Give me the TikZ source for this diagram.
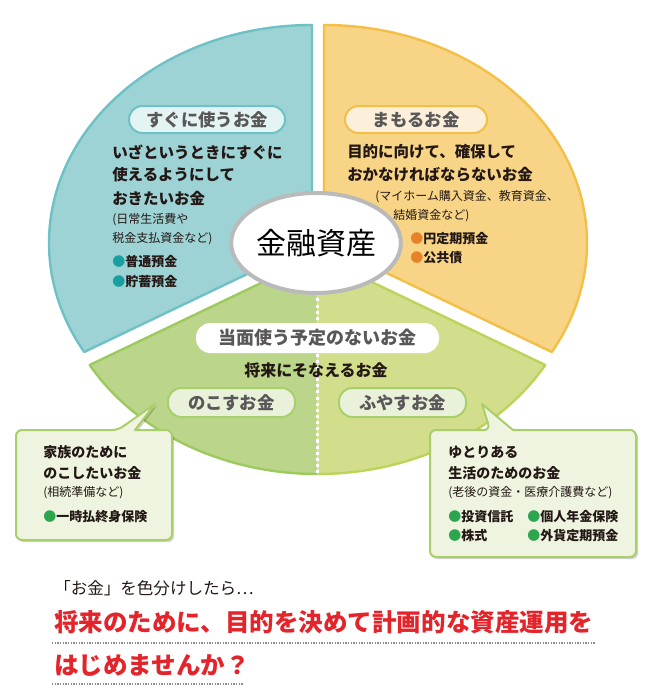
\documentclass[tikz,border=0pt]{standalone}
\usepackage{fontspec}
\newfontfamily\jp{Noto Sans CJK JP}
\usetikzlibrary{shadows,shapes.geometric}
\definecolor{bluefill}{HTML}{9ED3D5}
\definecolor{blueline}{HTML}{6EC1C5}
\definecolor{bluepill}{HTML}{E4F3F3}
\definecolor{orfill}{HTML}{F8D586}
\definecolor{orline}{HTML}{F3BF47}
\definecolor{orpill}{HTML}{FCF0DA}
\definecolor{gLfill}{HTML}{BBD68B}
\definecolor{gRfill}{HTML}{D3DE8D}
\definecolor{gLline}{HTML}{9DCA5C}
\definecolor{gRline}{HTML}{BDD35A}
\definecolor{gpill}{HTML}{E9F1DA}
\definecolor{boxfill}{HTML}{EEF4DF}
\definecolor{boxline}{HTML}{A9CF6A}
\definecolor{pilltext}{HTML}{595757}
\definecolor{ink}{HTML}{231815}
\definecolor{dotteal}{HTML}{1A9FA0}
\definecolor{dotorange}{HTML}{E8822A}
\definecolor{dotgreen}{HTML}{2DA44E}
\definecolor{redtext}{HTML}{E3242B}
\tikzset{
  sector/.style={line width=1.8pt, line join=round},
  pill/.style={rounded corners=10pt, line width=1.5pt, inner sep=0pt, text=pilltext,
    font=\jp\bfseries\fontsize{13pt}{13pt}\selectfont},
  body/.style={anchor=west, inner sep=0pt, text=ink, font=\jp\bfseries\fontsize{11.6pt}{11.6pt}\selectfont},
  boxbody/.style={anchor=west, inner sep=0pt, text=ink, font=\jp\bfseries\fontsize{10.5pt}{10.5pt}\selectfont},
  small/.style={anchor=west, inner sep=0pt, text=ink, font=\jp\fontsize{9pt}{9pt}\selectfont},
  item/.style={anchor=west, inner sep=0pt, text=ink, font=\jp\bfseries\fontsize{9.75pt}{9.75pt}\selectfont},
  callout/.style={fill=boxfill, draw=boxline, line width=1.5pt, line join=round,
    drop shadow={shadow xshift=1.5pt, shadow yshift=-1.5pt, fill=black, opacity=0.18}},
  redline/.style={anchor=west, inner sep=0pt, text=redtext, font=\jp\bfseries\fontsize{18.4pt}{18.4pt}\selectfont},
  dots/.style={draw=black!45, line width=1.1pt, dash pattern=on 0.9pt off 1.1pt}
}
\begin{document}
\begin{tikzpicture}[x=0.75pt,y=-0.75pt]
\useasboundingbox[fill=white] (0,0) rectangle (650,696);
% blue sector
\filldraw[sector, fill=bluefill, draw=blueline] (312,243) -- (312,25)
  arc[start angle=-90, end angle=-210, x radius=263, y radius=218] -- cycle;
% orange sector
\filldraw[sector, fill=orfill, draw=orline] (324,243) -- (324,25)
  arc[start angle=-90, end angle=30, x radius=263, y radius=218] -- cycle;
% green sector
\fill[gLfill] (317.5,256) -- (89.7,365)
  arc[start angle=150, end angle=90, x radius=263, y radius=218] -- cycle;
\fill[gRfill] (317.5,256) -- (317.5,474)
  arc[start angle=90, end angle=30, x radius=263, y radius=218] -- cycle;
\draw[sector, draw=gLline] (317.5,256) -- (89.7,365)
  arc[start angle=150, end angle=90, x radius=263, y radius=218];
\draw[sector, draw=gRline] (317.5,474)
  arc[start angle=90, end angle=30, x radius=263, y radius=218] -- (317.5,256);
\draw[white, line width=2.2pt, dash pattern=on 2.3pt off 2.3pt] (317.5,280) -- (317.5,475);
% center
\node[ellipse, draw=black!27, line width=3pt, fill=white, minimum width=106.5pt, minimum height=75pt,
  inner sep=0pt, font=\jp\fontsize{22.5pt}{22.5pt}\selectfont, text=black] (c) at (316,243) {金融資産};
% blue texts
\node[pill, fill=bluepill, draw=blueline, minimum width=117pt, minimum height=20.25pt] (p1) at (207,119.5) {すぐに使うお金};
\node[body] (b1) at (112,152) {いざというときにすぐに};
\node[body] (b2) at (112,175) {使えるようにして};
\node[body] (b3) at (112,198) {おきたいお金};
\node[small] (b4) at (112,220) {(日常生活費や};
\node[small] (b5) at (112,239) {税金支払資金など)};
\node[item] (b6) at (112,262) {\textcolor{dotteal}{●}普通預金};
\node[item] (b7) at (112,282) {\textcolor{dotteal}{●}貯蓄預金};
% orange texts
\node[pill, fill=orpill, draw=orline, minimum width=106.5pt, minimum height=20.25pt] (p2) at (416,119.5) {まもるお金};
\node[body] (o1) at (347,152) {目的に向けて、確保して};
\node[body] (o2) at (347,175) {おかなければならないお金};
\node[small] (o3) at (375,197) {(マイホーム購入資金、教育資金、};
\node[small] (o4) at (393,216) {結婚資金など)};
\node[item] (o5) at (410,239) {\textcolor{dotorange}{●}円定期預金};
\node[item] (o6) at (410,258) {\textcolor{dotorange}{●}公共債};
% green texts
\node[pill, fill=white, draw=white, minimum width=180.75pt, minimum height=21pt, font=\jp\bfseries\fontsize{13.5pt}{13.5pt}\selectfont] (p3) at (317.5,338) {当面使う予定のないお金};
\node[inner sep=0pt, text=ink, font=\jp\bfseries\fontsize{12pt}{12pt}\selectfont] (g1) at (316,370) {将来にそなえるお金};
\node[pill, fill=gpill, draw=boxline, minimum width=95.25pt, minimum height=21.75pt] (p4) at (231.5,402.5) {のこすお金};
\node[pill, fill=gpill, draw=boxline, minimum width=95.25pt, minimum height=21.75pt] (p5) at (402.5,402.5) {ふやすお金};
% callouts
\path[callout] (155,404) -- (135,430) [rounded corners=4.5pt] -- (172,430) -- (172,540) -- (16,540) -- (16,430) -- (118,430) [sharp corners] -- cycle;
\node[boxbody] (l1) at (43,452) {家族のために};
\node[boxbody] (l2) at (43,473) {のこしたいお金};
\node[small] (l3) at (43,493) {(相続準備など)};
\node[item] (l4) at (43,517) {\textcolor{dotgreen}{●}一時払終身保険};
\path[callout] (482,404) -- (513,430) [rounded corners=4.5pt] -- (636,430) -- (636,557) -- (430,557) -- (430,430) -- (490,430) [sharp corners] -- cycle;
\node[boxbody] (r1) at (448,452) {ゆとりある};
\node[boxbody] (r2) at (448,473) {生活のためのお金};
\node[small] (r3) at (448,493) {(老後の資金・医療介護費など)};
\node[item] (r4) at (448,517) {\textcolor{dotgreen}{●}投資信託};
\node[item] (r5) at (527,517) {\textcolor{dotgreen}{●}個人年金保険};
\node[item] (r6) at (448,536) {\textcolor{dotgreen}{●}株式};
\node[item] (r7) at (527,536) {\textcolor{dotgreen}{●}外貨定期預金};
% bottom message
\node[anchor=west, inner sep=0pt, text=ink, font=\jp\fontsize{12.4pt}{12.4pt}\selectfont] (m1) at (54,588) {「お金」を色分けしたら…};
\node[redline] (m2) at (54,622) {将来のために、目的を決めて計画的な資産運用を};
\node[redline] (m3) at (54,665) {はじめませんか？};
\coordinate (d1a) at (52,643); \coordinate (d1b) at (595,643);
\coordinate (d2a) at (52,684); \coordinate (d2b) at (243,684);
\draw[dots] (d1a) -- (d1b);
\draw[dots] (d2a) -- (d2b);
\end{tikzpicture}
\end{document}
